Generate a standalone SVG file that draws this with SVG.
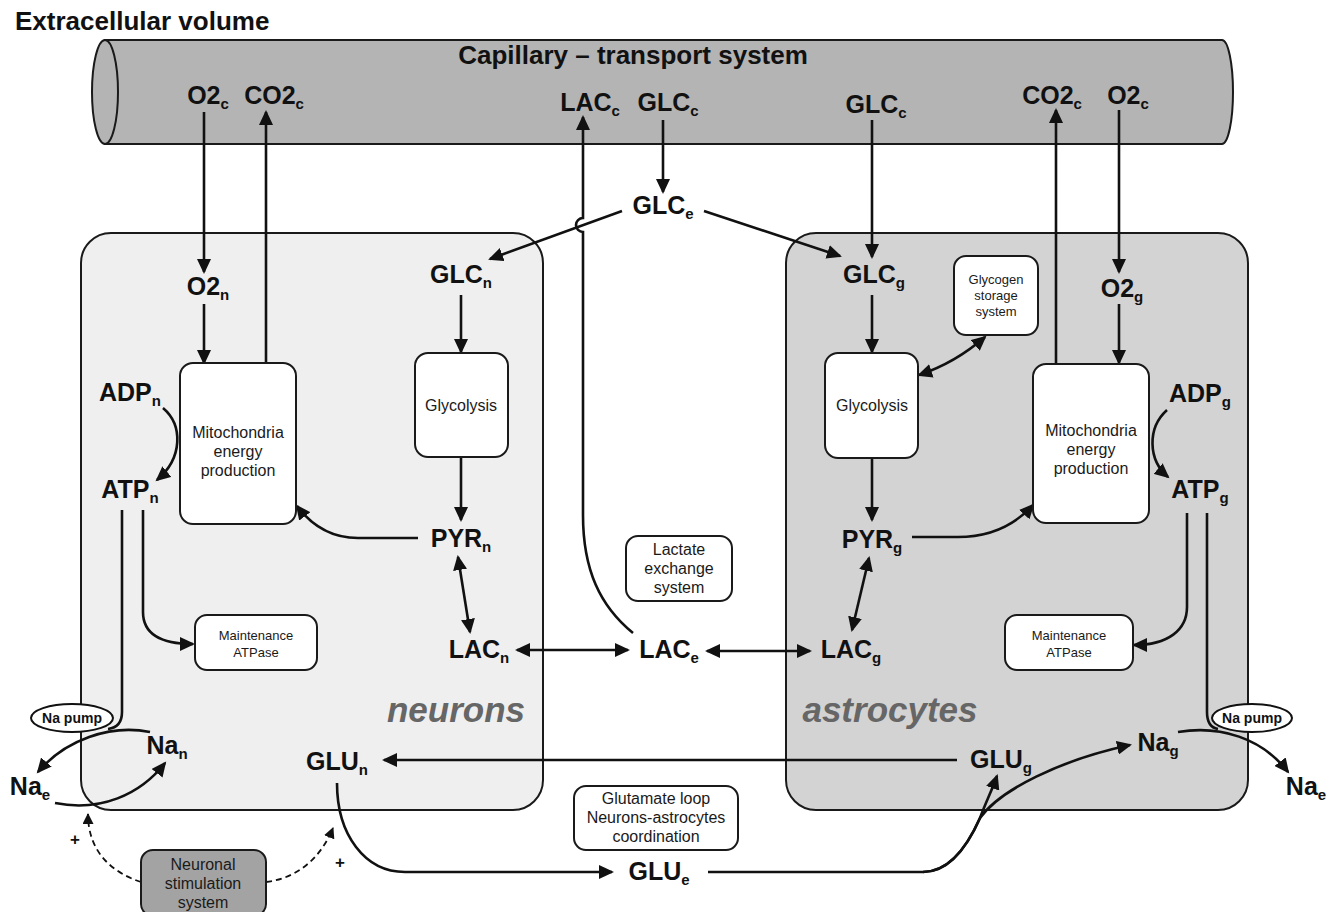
<svg xmlns="http://www.w3.org/2000/svg" width="1338" height="912" viewBox="0 0 1338 912">
<style>
.lbl{font-family:"Liberation Sans",Arial,sans-serif;font-weight:bold;font-size:25px;fill:#111;text-anchor:middle}
.sub{font-size:15px}
.bt{font-family:"Liberation Sans",Arial,sans-serif;font-size:16px;fill:#1a1a1a;text-anchor:middle}
.st{font-family:"Liberation Sans",Arial,sans-serif;font-size:13px;fill:#1a1a1a;text-anchor:middle}
.box{fill:#fff;stroke:#1a1a1a;stroke-width:2}
.c{fill:none;stroke:#111;stroke-width:2.6}
.d{fill:none;stroke:#111;stroke-width:1.8;stroke-dasharray:6,4}
.big{font-family:"Liberation Sans",Arial,sans-serif;font-weight:bold;font-style:italic;font-size:35px;fill:#666;text-anchor:middle}
</style>
<defs>
<marker id="ah" markerUnits="userSpaceOnUse" markerWidth="16" markerHeight="14" refX="13" refY="7" orient="auto-start-reverse"><path d="M0,0 L15,7 L0,14 Z" fill="#111"/></marker>
<marker id="as" markerUnits="userSpaceOnUse" markerWidth="12" markerHeight="11" refX="10" refY="5.5" orient="auto"><path d="M0,0 L11,5.5 L0,11 Z" fill="#111"/></marker>
</defs>
<rect width="1338" height="912" fill="#fff"/>
<text x="15" y="30" font-family="Liberation Sans, Arial, sans-serif" font-weight="bold" font-size="26" fill="#111">Extracellular volume</text>

<g id="capillary">
<path d="M105,40 H1222 A11,52 0 0 1 1222,144 H105 Z" fill="#b4b4b4" stroke="#1a1a1a" stroke-width="2"/>
<ellipse cx="105" cy="92" rx="13" ry="52" fill="#b4b4b4" stroke="#1a1a1a" stroke-width="2"/>
<text x="633" y="64" font-family="Liberation Sans, Arial, sans-serif" font-weight="bold" font-size="26" fill="#111" text-anchor="middle">Capillary – transport system</text>
</g>

<g id="neurons-cell">
<rect x="81" y="233" width="462" height="577" rx="30" fill="#efefef" stroke="#1a1a1a" stroke-width="2"/>
<text x="456" y="722" class="big">neurons</text>
</g>
<g id="astrocytes-cell">
<rect x="786" y="233" width="462" height="577" rx="30" fill="#d3d3d3" stroke="#1a1a1a" stroke-width="2"/>
<text x="890" y="722" class="big">astrocytes</text>
</g>

<g id="connectors">
<path class="c" d="M204,112 V272" marker-end="url(#ah)"/>
<path class="c" d="M204,304 V363" marker-end="url(#ah)"/>
<path class="c" d="M266,363 V112" marker-end="url(#ah)"/>
<path class="c" d="M663,120 V192" marker-end="url(#ah)"/>
<path class="c" d="M622,211 L490,259" marker-end="url(#ah)"/>
<path class="c" d="M704,211 L840,256" marker-end="url(#ah)"/>
<path class="c" d="M633,633 C600,606 583,570 583,515 V232 A7,7 0 0 1 583,218 V117" marker-end="url(#ah)"/>
<path class="c" d="M872,120 V257" marker-end="url(#ah)"/>
<path class="c" d="M1056,364 V110" marker-end="url(#ah)"/>
<path class="c" d="M1119,110 V272" marker-end="url(#ah)"/>
<path class="c" d="M1119,304 V363" marker-end="url(#ah)"/>
<path class="c" d="M461,295 V352" marker-end="url(#ah)"/>
<path class="c" d="M461,457 V520" marker-end="url(#ah)"/>
<path class="c" d="M418,538 H358 C332,538 312,526 297,506" marker-end="url(#ah)"/>
<path class="c" d="M163,408 C183,425 183,458 157,480" marker-end="url(#ah)"/>
<path class="c" d="M143,510 V612 C143,632 158,644 193,644" marker-end="url(#ah)"/>
<path class="c" d="M122,510 V712 C122,724 116,728 108,729"/>
<path class="c" d="M150,732 C110,724 65,740 38,772" marker-end="url(#ah)"/>
<path class="c" d="M55,803 C100,812 140,795 165,763" marker-end="url(#ah)"/>
<path class="c" d="M458,557 L470,632" marker-start="url(#ah)" marker-end="url(#ah)"/>
<path class="c" d="M517,650 H628" marker-start="url(#ah)" marker-end="url(#ah)"/>
<path class="c" d="M707,651 H810" marker-start="url(#ah)" marker-end="url(#ah)"/>
<path class="c" d="M872,295 V352" marker-end="url(#ah)"/>
<path class="c" d="M872,458 V520" marker-end="url(#ah)"/>
<path class="c" d="M912,537 H958 C988,537 1014,526 1033,505" marker-end="url(#ah)"/>
<path class="c" d="M869,558 L852,630" marker-start="url(#ah)" marker-end="url(#ah)"/>
<path class="c" d="M919,375 Q955,363 985,337" marker-start="url(#ah)" marker-end="url(#ah)"/>
<path class="c" d="M1167,410 C1147,428 1148,460 1168,477" marker-end="url(#ah)"/>
<path class="c" d="M1187,513 V607 C1187,630 1168,645 1134,645" marker-end="url(#ah)"/>
<path class="c" d="M1207,513 V712 C1207,724 1212,728 1218,729"/>
<path class="c" d="M1178,732 C1220,725 1262,738 1288,772" marker-end="url(#ah)"/>
<path class="c" d="M957,760 H384" marker-end="url(#ah)"/>
<path class="c" d="M337,783 C337,835 365,872 405,872 H612" marker-end="url(#ah)"/>
<path class="c" d="M708,872 H923 C950,872 968,845 980,818 C986,802 992,790 997,776" marker-end="url(#ah)"/>
<path class="c" d="M923,872 C950,872 968,845 980,818 C1000,790 1060,760 1130,745" marker-end="url(#ah)"/>
<path class="d" d="M141,882 C110,872 88,850 88,814" marker-end="url(#as)"/>
<path class="d" d="M266,882 C300,878 322,855 333,828" marker-end="url(#as)"/>
<text x="75" y="845" class="lbl" style="font-size:17px">+</text>
<text x="340" y="868" class="lbl" style="font-size:17px">+</text>
</g>

<g id="mito-n"><rect class="box" x="180" y="363" width="116" height="161" rx="13"/>
<text class="bt" x="238" y="438">Mitochondria</text><text class="bt" x="238" y="457">energy</text><text class="bt" x="238" y="476">production</text></g>
<g id="glyc-n"><rect class="box" x="415" y="353" width="93" height="104" rx="13"/><text class="bt" x="461" y="411">Glycolysis</text></g>
<g id="maint-n"><rect class="box" x="195" y="615" width="122" height="55" rx="12"/><text class="st" x="256" y="640">Maintenance</text><text class="st" x="256" y="657">ATPase</text></g>
<g id="glycogen"><rect class="box" x="954" y="256" width="84" height="79" rx="12"/><text class="st" x="996" y="284">Glycogen</text><text class="st" x="996" y="300">storage</text><text class="st" x="996" y="316">system</text></g>
<g id="glyc-g"><rect class="box" x="825" y="353" width="93" height="105" rx="13"/><text class="bt" x="872" y="411">Glycolysis</text></g>
<g id="mito-g"><rect class="box" x="1033" y="364" width="116" height="159" rx="13"/>
<text class="bt" x="1091" y="436">Mitochondria</text><text class="bt" x="1091" y="455">energy</text><text class="bt" x="1091" y="474">production</text></g>
<g id="maint-g"><rect class="box" x="1005" y="615" width="128" height="55" rx="12"/><text class="st" x="1069" y="640">Maintenance</text><text class="st" x="1069" y="657">ATPase</text></g>
<g id="lactate"><rect class="box" x="626" y="536" width="106" height="65" rx="12"/><text class="bt" x="679" y="555">Lactate</text><text class="bt" x="679" y="574">exchange</text><text class="bt" x="679" y="593">system</text></g>
<g id="glutamate"><rect class="box" x="574" y="786" width="164" height="64" rx="12"/><text class="bt" x="656" y="804">Glutamate loop</text><text class="bt" x="656" y="823">Neurons-astrocytes</text><text class="bt" x="656" y="842">coordination</text></g>
<g id="stimulation"><rect x="141" y="850" width="125" height="66" rx="12" fill="#a3a3a3" stroke="#1a1a1a" stroke-width="2"/><text class="bt" x="203" y="870">Neuronal</text><text class="bt" x="203" y="889">stimulation</text><text class="bt" x="203" y="908">system</text></g>
<g id="napump-n"><ellipse cx="72" cy="718" rx="41" ry="14" fill="#fff" stroke="#111" stroke-width="2"/><text x="72" y="723" class="lbl" style="font-size:14px">Na pump</text></g>
<g id="napump-g"><ellipse cx="1252" cy="718" rx="40" ry="14" fill="#fff" stroke="#111" stroke-width="2"/><text x="1252" y="723" class="lbl" style="font-size:14px">Na pump</text></g>

<g id="o2c-l"><text class="lbl" x="208" y="104">O2<tspan class="sub" dy="5">c</tspan></text></g>
<g id="co2c-l"><text class="lbl" x="274" y="104">CO2<tspan class="sub" dy="5">c</tspan></text></g>
<g id="lacc"><text class="lbl" x="590" y="111">LAC<tspan class="sub" dy="5">c</tspan></text></g>
<g id="glcc-m"><text class="lbl" x="668" y="111">GLC<tspan class="sub" dy="5">c</tspan></text></g>
<g id="glcc-r"><text class="lbl" x="876" y="113">GLC<tspan class="sub" dy="5">c</tspan></text></g>
<g id="co2c-r"><text class="lbl" x="1052" y="104">CO2<tspan class="sub" dy="5">c</tspan></text></g>
<g id="o2c-r"><text class="lbl" x="1128" y="104">O2<tspan class="sub" dy="5">c</tspan></text></g>
<g id="glce"><text class="lbl" x="663" y="214">GLC<tspan class="sub" dy="5">e</tspan></text></g>
<g id="o2n"><text class="lbl" x="208" y="295">O2<tspan class="sub" dy="5">n</tspan></text></g>
<g id="glcn"><text class="lbl" x="461" y="283">GLC<tspan class="sub" dy="5">n</tspan></text></g>
<g id="adpn"><text class="lbl" x="130" y="401">ADP<tspan class="sub" dy="5">n</tspan></text></g>
<g id="atpn"><text class="lbl" x="130" y="498">ATP<tspan class="sub" dy="5">n</tspan></text></g>
<g id="pyrn"><text class="lbl" x="461" y="547">PYR<tspan class="sub" dy="5">n</tspan></text></g>
<g id="lacn"><text class="lbl" x="479" y="658">LAC<tspan class="sub" dy="5">n</tspan></text></g>
<g id="lace"><text class="lbl" x="669" y="658">LAC<tspan class="sub" dy="5">e</tspan></text></g>
<g id="lacg"><text class="lbl" x="851" y="658">LAC<tspan class="sub" dy="5">g</tspan></text></g>
<g id="nan"><text class="lbl" x="167" y="754">Na<tspan class="sub" dy="5">n</tspan></text></g>
<g id="nae-l"><text class="lbl" x="30" y="795">Na<tspan class="sub" dy="5">e</tspan></text></g>
<g id="glun"><text class="lbl" x="337" y="770">GLU<tspan class="sub" dy="5">n</tspan></text></g>
<g id="glue"><text class="lbl" x="659" y="880">GLU<tspan class="sub" dy="5">e</tspan></text></g>
<g id="glug"><text class="lbl" x="1001" y="768">GLU<tspan class="sub" dy="5">g</tspan></text></g>
<g id="nag"><text class="lbl" x="1158" y="751">Na<tspan class="sub" dy="5">g</tspan></text></g>
<g id="nae-r"><text class="lbl" x="1306" y="795">Na<tspan class="sub" dy="5">e</tspan></text></g>
<g id="glcg"><text class="lbl" x="874" y="283">GLC<tspan class="sub" dy="5">g</tspan></text></g>
<g id="o2g"><text class="lbl" x="1122" y="297">O2<tspan class="sub" dy="5">g</tspan></text></g>
<g id="adpg"><text class="lbl" x="1200" y="402">ADP<tspan class="sub" dy="5">g</tspan></text></g>
<g id="atpg"><text class="lbl" x="1200" y="498">ATP<tspan class="sub" dy="5">g</tspan></text></g>
<g id="pyrg"><text class="lbl" x="872" y="548">PYR<tspan class="sub" dy="5">g</tspan></text></g>
</svg>
